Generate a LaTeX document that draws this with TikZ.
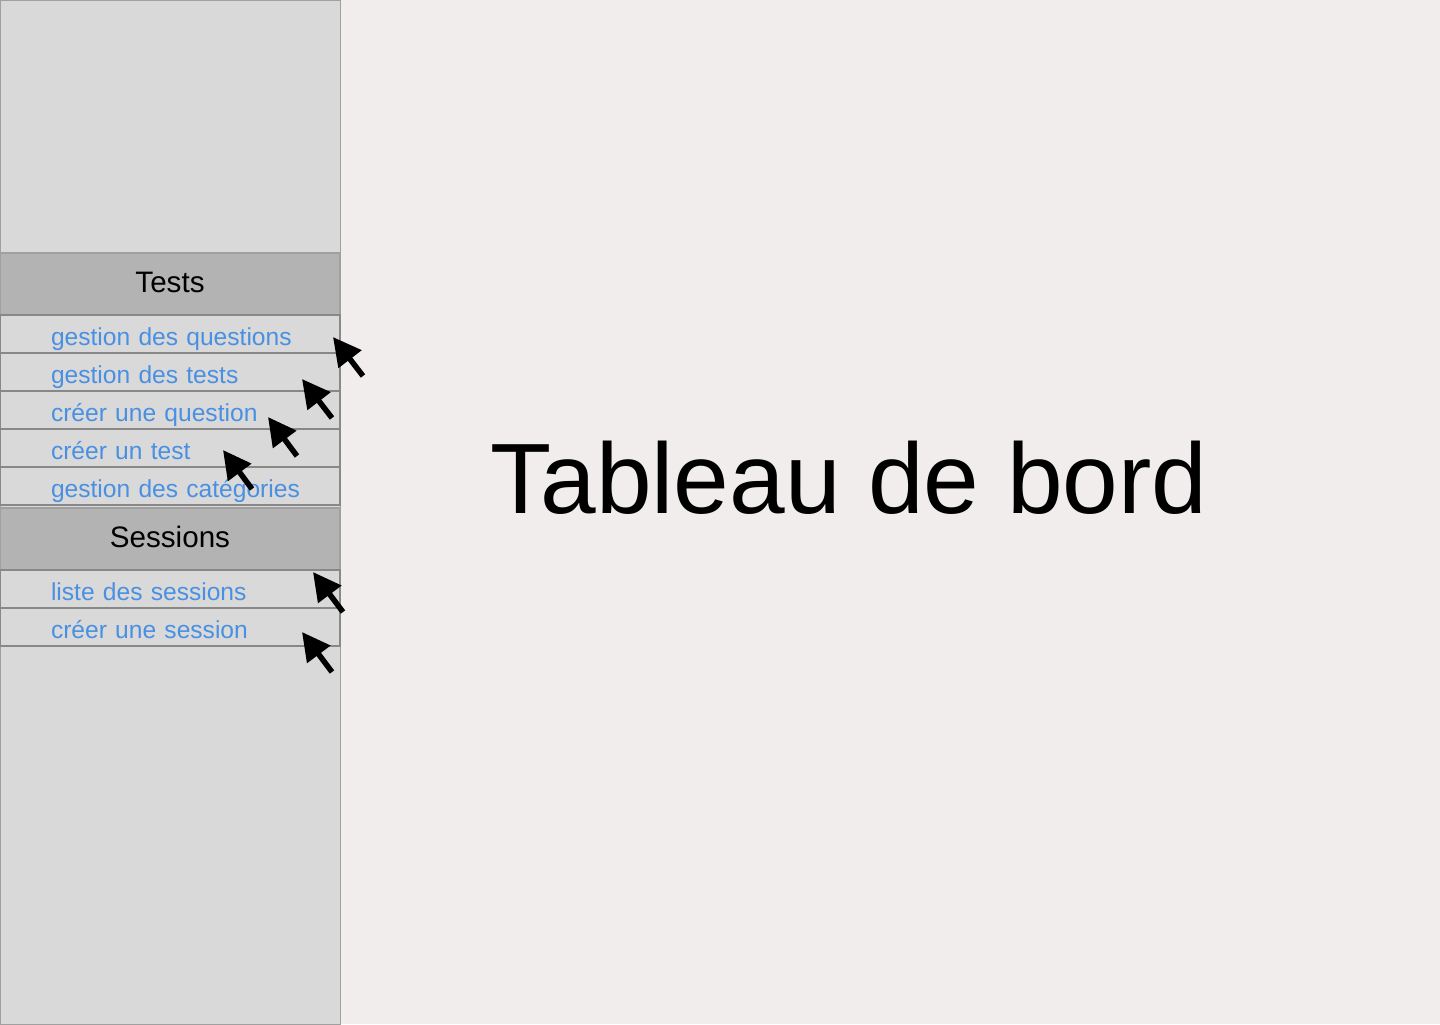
\documentclass[tikz,border=0pt]{standalone}
\usepackage{fontspec}
\setmainfont{Liberation Sans}
\usetikzlibrary{positioning,arrows.meta,shadows}
\definecolor{bgpage}{HTML}{F0EDEC}
\definecolor{sidefill}{HTML}{D9D9D9}
\definecolor{headfill}{HTML}{B3B3B3}
\definecolor{edgegray}{HTML}{A0A0A0}
\definecolor{linkblue}{HTML}{4A90E2}
\begin{document}
\begin{tikzpicture}[x=0.5pt,y=-0.5pt,
    side/.style = {draw=edgegray, fill=sidefill, line width=0.5pt, minimum width=170pt, minimum height=512pt, inner sep=0pt},
    head/.style = {draw=edgegray, fill=headfill, line width=0.6pt, minimum width=170pt, minimum height=31pt, inner sep=0pt, outer sep=0pt, font=\fontsize{14.8}{16}\selectfont, text height=8.5pt, text depth=0pt},
    item/.style = {draw=edgegray!85!black, fill=sidefill, line width=0.6pt, minimum width=170pt, minimum height=19pt, inner sep=0pt, outer sep=0pt, text width=170pt, align=left, text=linkblue, font=\fontsize{12.3}{14}\selectfont, text height=11.5pt, text depth=0pt, execute at begin node=\noindent\hspace*{25.5pt}, drop shadow={shadow xshift=0.6pt, shadow yshift=-0.6pt, opacity=0.25}},
    ptr/.style = {line width=2.75pt, -{Triangle[length=14pt,width=14pt]}}]
  \useasboundingbox (0,0) rectangle (1440,1024);
  \fill[bgpage] (0,0) rectangle (1440,1024);
  \node[side, anchor=north west] (sidebar) at (0,0) {};
  % menu: tests
  \node[head, anchor=north west] (tests) at (0,253) {Tests};
  \node[item, below=0pt of tests] (gquest) {gestion des questions};
  \node[item, below=0pt of gquest] (gtests) {gestion des tests};
  \node[item, below=0pt of gtests] (cquest) {créer une question};
  \node[item, below=0pt of cquest] (ctest) {créer un test};
  \node[item, below=0pt of ctest] (gcats) {gestion des catégories};
  % menu: sessions
  \node[head, below=1.5pt of gcats] (sessions) {Sessions};
  \node[item, below=0pt of sessions] (lsess) {liste des sessions};
  \node[item, below=0pt of lsess] (csess) {créer une session};
  %
  \node[font=\fontsize{50}{60}\selectfont, anchor=base] (title) at (849,513) {Tableau de bord};
  %
  \coordinate (a1) at (363,376); \coordinate (p1) at (333,337);
  \coordinate (a2) at (332,418); \coordinate (p2) at (302,379);
  \coordinate (a3) at (297,456); \coordinate (p3) at (268,417);
  \coordinate (a4) at (252,489); \coordinate (p4) at (223,450);
  \coordinate (a5) at (343,612); \coordinate (p5) at (313,572);
  \coordinate (a6) at (332,672); \coordinate (p6) at (302,632);
  \draw[ptr] (a1) -- (p1);
  \draw[ptr] (a2) -- (p2);
  \draw[ptr] (a3) -- (p3);
  \draw[ptr] (a4) -- (p4);
  \draw[ptr] (a5) -- (p5);
  \draw[ptr] (a6) -- (p6);
\end{tikzpicture}
\end{document}
